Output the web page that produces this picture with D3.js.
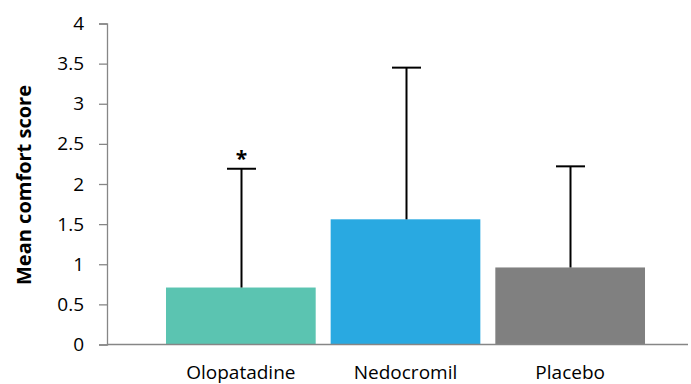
<!DOCTYPE html>
<html>
<head>
<meta charset="utf-8">
<script src="https://cdn.jsdelivr.net/npm/d3@7"></script>
<style>
  html, body { margin: 0; padding: 0; background: #fff; }
  svg { display: block; font-family: "Open Sans", "Noto Sans", sans-serif; }
</style>
</head>
<body>
<svg id="chart" width="691" height="384"></svg>
<script>
// Treatment groups, mean comfort score and upper error (mean + SD)
const categories = ["Olopatadine", "Nedocromil", "Placebo"];
const means = [0.71, 1.56, 0.96];
const errorTops = [2.19, 3.45, 2.22];
const significance = ["*", "", ""];
const barColors = ["#5BC4B1", "#29A9E1", "#808080"];
const yTicks = [0, 0.5, 1, 1.5, 2, 2.5, 3, 3.5, 4];

const svg = d3.select("#chart");
const axisX = 107, baseY = 344.5, topY = 23.5, rightX = 688;

const y = d3.scaleLinear().domain([0, 4]).range([baseY, topY]);
const x = d3.scaleBand()
  .domain(categories)
  .range([158.5, 652.5])
  .paddingInner(0.0909)
  .paddingOuter(0.0455);

// Bars
svg.append("g").selectAll("rect")
  .data(categories)
  .join("rect")
  .attr("x", d => x(d))
  .attr("width", x.bandwidth())
  .attr("y", (d, i) => y(means[i]))
  .attr("height", (d, i) => y(0) - y(means[i]))
  .attr("fill", (d, i) => barColors[i]);

// Error bars (upper only)
const err = svg.append("g").attr("stroke", "#000").attr("stroke-width", 2);
categories.forEach((c, i) => {
  const cx = Math.round(x(c) + x.bandwidth() / 2) + 0.5;
  err.append("line")
    .attr("x1", cx).attr("x2", cx)
    .attr("y1", y(means[i])).attr("y2", y(errorTops[i]));
  err.append("line")
    .attr("x1", cx - 14.5).attr("x2", cx + 14.5)
    .attr("y1", y(errorTops[i])).attr("y2", y(errorTops[i]));
  if (significance[i]) {
    svg.append("text")
      .attr("x", cx).attr("y", y(errorTops[i]) - 3)
      .attr("text-anchor", "middle")
      .attr("font-size", 21)
      .attr("font-weight", "bold")
      .attr("fill", "#000")
      .text(significance[i]);
  }
});

// Y axis
const yAxis = d3.axisLeft(y).tickValues(yTicks).tickSize(8).tickPadding(15)
  .tickFormat(d3.format("~g"));
const gy = svg.append("g").attr("transform", `translate(${axisX},0)`).call(yAxis);
gy.select(".domain").attr("stroke", "#868686").attr("stroke-width", 1.3);
gy.selectAll(".tick line").attr("stroke", "#868686").attr("stroke-width", 1.3);
gy.selectAll(".tick text")
  .attr("font-size", 19)
  .attr("font-family", "Open Sans, sans-serif")
  .attr("fill", "#000");

// Baseline
svg.append("line")
  .attr("x1", axisX).attr("x2", rightX)
  .attr("y1", baseY).attr("y2", baseY)
  .attr("stroke", "#868686").attr("stroke-width", 1.3);

// Category labels
svg.append("g").selectAll("text")
  .data(categories)
  .join("text")
  .attr("x", d => x(d) + x.bandwidth() / 2)
  .attr("y", 378.5)
  .attr("text-anchor", "middle")
  .attr("font-size", 19)
  .attr("fill", "#000")
  .text(d => d);

// Y axis title
svg.append("text")
  .attr("transform", `translate(31,185) rotate(-90)`)
  .attr("text-anchor", "middle")
  .attr("font-size", 20)
  .attr("font-weight", "bold")
  .attr("fill", "#000")
  .text("Mean comfort score");
</script>
</body>
</html>
